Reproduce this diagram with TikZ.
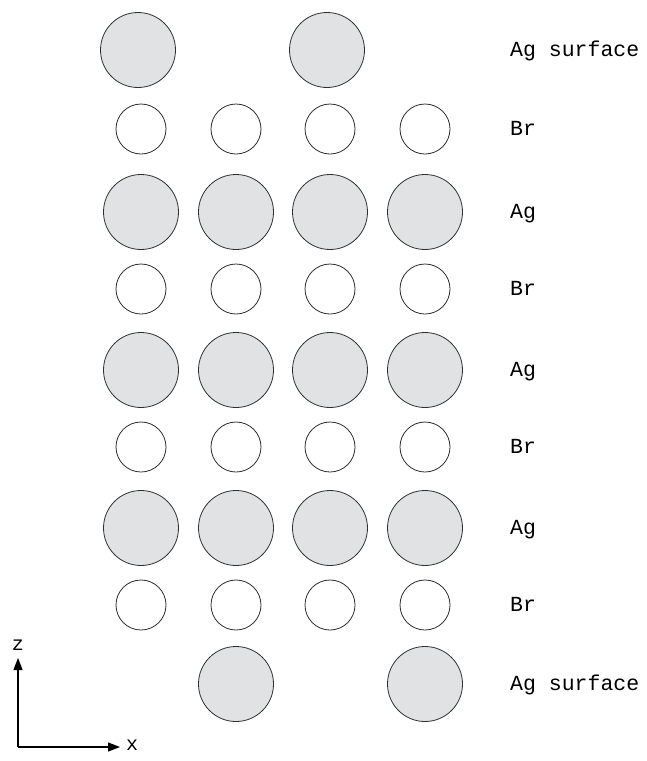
\documentclass[tikz,border=0pt]{standalone}
\usepackage{fontspec}
\setmonofont{Liberation Mono}
\usetikzlibrary{arrows.meta, positioning}
\definecolor{agfill}{HTML}{E1E2E4}
\definecolor{atomline}{HTML}{2E2E2E}
\tikzset{
    atom/.style={circle, draw=atomline, line width=0.8pt, inner sep=0pt},
    agatom/.style={atom, fill=agfill, minimum size=75pt},
    bratom/.style={atom, fill=white, minimum size=50pt},
    layerlabel/.style={anchor=base west, inner sep=0pt, font=\ttfamily\fontsize{21.5}{25}\selectfont},
    axislabel/.style={inner sep=0pt, font=\ttfamily\fontsize{20}{24}\selectfont},
    axisarrow/.style={-{Triangle[length=12pt, width=9pt]}, line width=1.3pt, draw=black}
}

\begin{document}
\begin{tikzpicture}[x=1pt, y=-1pt]
    \useasboundingbox (0,0) rectangle (647,761);
    % Ag surface on top
    \node[agatom] (topA) at (138,50) {};
    \node[agatom] (topB) at (327,50) {};
    % bulk: alternating Br / Ag layers
    \foreach \y/\kind/\n in {129/bratom/1, 212/agatom/2, 289/bratom/3, 370/agatom/4, 447/bratom/5, 528/agatom/6, 605/bratom/7} {
        \foreach \x/\c in {141/a, 236/b, 330/c, 425/d} {
            \node[\kind] (row\n\c) at (\x,\y) {};
        }
    }
    % Ag surface at the bottom
    \node[agatom] (botA) at (236,684) {};
    \node[agatom] (botB) at (425,684) {};
    % layer names
    \foreach \y/\t/\n in {50/Ag surface/0, 129/Br/1, 212/Ag/2, 289/Br/3, 370/Ag/4, 447/Br/5, 528/Ag/6, 605/Br/7, 684/Ag surface/8} {
        \node[layerlabel] (lab\n) at (510,\y+6) {\t};
    }
    % axes
    \coordinate (origin) at (18,747);
    \coordinate (zend) at (18,658);
    \coordinate (xend) at (120,747);
    \draw[axisarrow] (origin) -- (zend);
    \draw[axisarrow] (origin) -- (xend);
    \node[axislabel] (zlab) at (18,645) {z};
    \node[axislabel] (xlab) at (132,745) {x};
\end{tikzpicture}
\end{document}
